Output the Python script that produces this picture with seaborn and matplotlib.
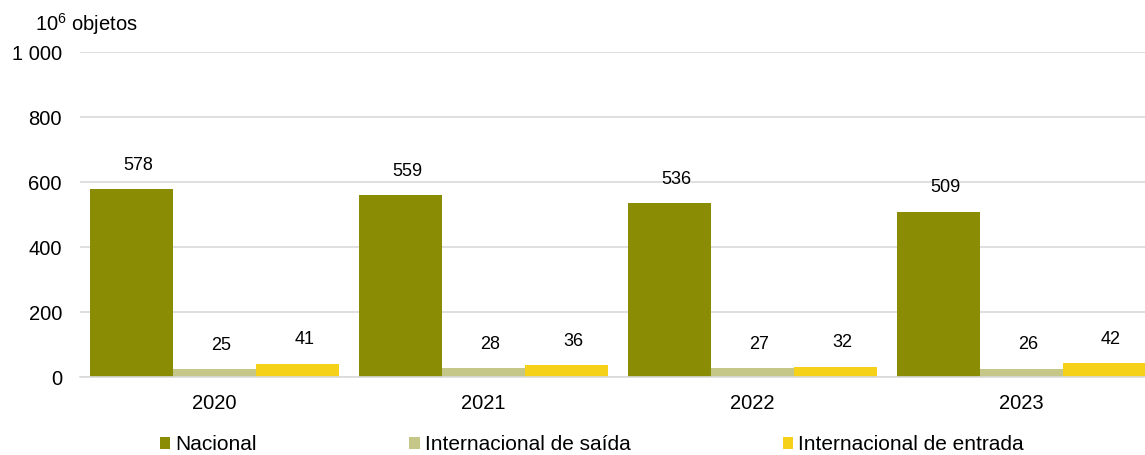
import pandas as pd
import matplotlib
matplotlib.use('Agg')
import matplotlib.pyplot as plt
import seaborn as sns
from matplotlib.patches import Patch
from matplotlib.ticker import FuncFormatter

years = ['2020', '2021', '2022', '2023']
series = ['Nacional', 'Internacional de saída', 'Internacional de entrada']
nacional = [578, 559, 536, 509]
saida = [25, 28, 27, 26]
entrada = [41, 36, 32, 42]
colors = ['#8A8C04', '#C4C788', '#F6D11A']

df = pd.DataFrame({
    'ano': years * 3,
    'tipo': [series[0]] * 4 + [series[1]] * 4 + [series[2]] * 4,
    'valor': nacional + saida + entrada,
})

sns.set_theme(style='white')
plt.rcParams['font.family'] = ['Liberation Sans', 'DejaVu Sans']
plt.rcParams['text.color'] = 'black'
plt.rcParams['xtick.color'] = 'black'
plt.rcParams['ytick.color'] = 'black'

fig = plt.figure(figsize=(11.45, 4.55), dpi=100)
ax = fig.add_axes([0.0699, 0.1714, 0.9393, 0.7143])

sns.barplot(data=df, x='ano', y='valor', hue='tipo', hue_order=series,
            palette=colors, width=0.926, gap=0, saturation=1,
            linewidth=0, legend=False, ax=ax)

# rótulos de dados (ligeiramente deslocados para a direita, como no original)
for c in ax.containers:
    for bar in c:
        h = bar.get_height()
        ax.annotate(f'{h:.0f}', (bar.get_x() + bar.get_width() / 2, h),
                    xytext=(5, 11), textcoords='offset points',
                    ha='center', va='bottom', fontsize=13, color='black')

ax.set_ylim(0, 1000)
ax.set_yticks(range(0, 1001, 200))
ax.yaxis.set_major_formatter(FuncFormatter(lambda v, p: f'{int(v):,}'.replace(',', ' ')))
ax.grid(axis='y', color='#D9D9D9', linewidth=1.2)
ax.set_axisbelow(True)
for s in ['top', 'right', 'left']:
    ax.spines[s].set_visible(False)
ax.spines['bottom'].set_color('#D9D9D9')
ax.spines['bottom'].set_linewidth(1.2)
ax.tick_params(axis='both', length=0, labelsize=14.5)
ax.tick_params(axis='y', pad=13)
ax.tick_params(axis='x', pad=12)
ax.set_xlabel('')
ax.set_ylabel('')

fig.text(0.031, 0.948, '10$^{\\mathregular{6}}$ objetos', fontsize=14.5,
         va='center', ha='left')

handles = [Patch(facecolor=col, edgecolor='none') for col in colors]
fig.legend(handles, series, loc='center', bbox_to_anchor=(0.517, 0.022),
           ncol=3, frameon=False, fontsize=15, handlelength=0.5,
           handleheight=0.5, handletextpad=0.25, columnspacing=7.3)

fig.savefig('out.png', dpi=100)
